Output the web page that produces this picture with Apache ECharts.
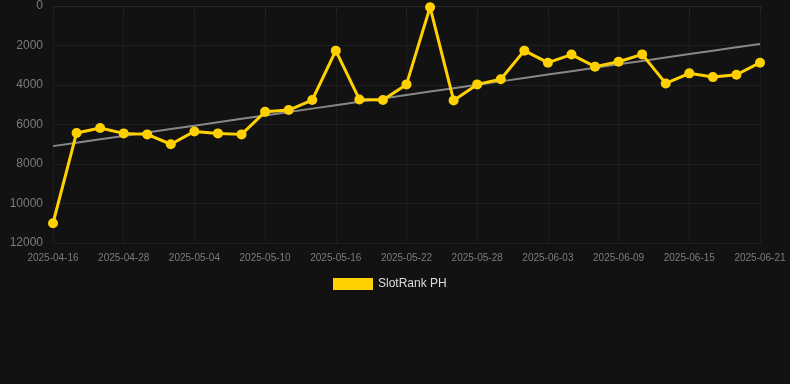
<!DOCTYPE html>
<html>
<head>
<meta charset="utf-8">
<script src="https://cdn.jsdelivr.net/npm/echarts@6/dist/echarts.min.js"></script>
<style>
html,body{margin:0;padding:0;background:#121212;}
#chart{width:790px;height:384px;}
</style>
</head>
<body>
<div id="chart"></div>
<script>
const categories = ['2025-04-16','2025-04-20','2025-04-24','2025-04-28','2025-04-30','2025-05-02','2025-05-04','2025-05-06','2025-05-08','2025-05-10','2025-05-12','2025-05-14','2025-05-16','2025-05-18','2025-05-20','2025-05-22','2025-05-24','2025-05-26','2025-05-28','2025-05-30','2025-06-01','2025-06-03','2025-06-05','2025-06-07','2025-06-09','2025-06-11','2025-06-13','2025-06-15','2025-06-17','2025-06-19','2025-06-21'];
const rankValues = [11000,6430,6180,6450,6500,7000,6350,6450,6500,5360,5270,4760,2260,4730,4760,3970,60,4780,3970,3710,2260,2870,2460,3070,2820,2450,3920,3410,3600,3480,2870];
const seriesName = 'SlotRank PH';
const yTicks = [0,2000,4000,6000,8000,10000,12000];

// linear regression trend from the data
const n = rankValues.length;
let sx=0, sy=0, sxy=0, sxx=0;
rankValues.forEach((v,i)=>{sx+=i;sy+=v;sxy+=i*v;sxx+=i*i;});
const slope = (n*sxy - sx*sy)/(n*sxx - sx*sx);
const intercept = (sy - slope*sx)/n;
const trend = rankValues.map((v,i)=>intercept + slope*i);

const chart = echarts.init(document.getElementById('chart'));
chart.setOption({
  backgroundColor: '#121212',
  animation: false,
  grid: {left: 53, right: 30, top: 6, bottom: 141},
  legend: {
    data: [seriesName],
    top: 273,
    left: 328,
    itemWidth: 40,
    itemHeight: 12,
    itemGap: 10,
    icon: 'rect',
    textStyle: {color: '#dddddd', fontSize: 12, fontFamily: 'Liberation Sans, Arial, sans-serif'}
  },
  xAxis: {
    type: 'category',
    data: categories,
    boundaryGap: false,
    axisLine: {lineStyle: {color: '#282828'}},
    axisTick: {show: true, interval: 2, lineStyle: {color: '#282828'}},
    axisLabel: {interval: 2, color: '#7c7c7c', fontSize: 10, margin: 10, fontFamily: 'Liberation Sans, Arial, sans-serif'},
    splitLine: {show: true, interval: 2, lineStyle: {color: '#1d1d1d'}}
  },
  yAxis: {
    type: 'value',
    inverse: true,
    min: yTicks[0],
    max: yTicks[yTicks.length-1],
    interval: 2000,
    axisLine: {show: false},
    axisTick: {show: false},
    axisLabel: {color: '#7c7c7c', fontSize: 12, margin: 10, formatter: v => String(v), fontFamily: 'Liberation Sans, Arial, sans-serif'},
    splitLine: {lineStyle: {color: '#1f1f1f'}}
  },
  series: [
    {
      name: 'trend',
      type: 'line',
      data: trend,
      symbol: 'none',
      lineStyle: {color: '#888888', width: 2},
      z: 1,
      silent: true
    },
    {
      name: seriesName,
      type: 'line',
      data: rankValues,
      symbol: 'circle',
      symbolSize: 10,
      itemStyle: {color: '#FFD100'},
      lineStyle: {color: '#FFD100', width: 3},
      z: 2
    }
  ]
});
</script>
</body>
</html>
